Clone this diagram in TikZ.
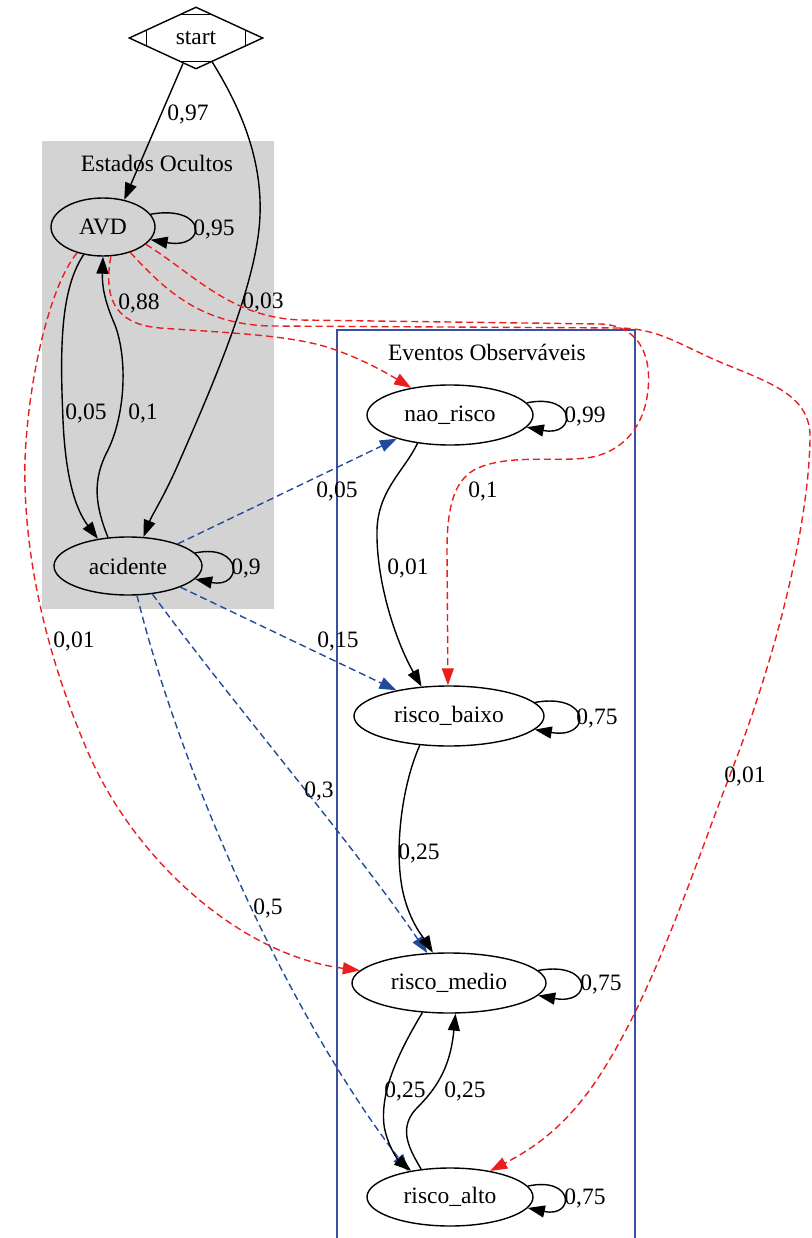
\documentclass[tikz,border=0pt]{standalone}
\usepackage{fontspec}
\setmainfont{Liberation Serif}
\usetikzlibrary{arrows.meta,shapes.geometric,calc}
\definecolor{hiddenfill}{RGB}{211,211,211}
\definecolor{obsframe}{RGB}{60,80,160}
\definecolor{emitred}{RGB}{235,30,30}
\definecolor{emitblue}{RGB}{35,75,155}
\begin{document}
\begin{tikzpicture}[x=1pt,y=-1pt,
  every node/.style={font=\fontsize{23.5}{28}\selectfont},
  hmmstate/.style={draw,ellipse,line width=1.4pt,inner sep=0pt},
  conn/.style={line width=1.4pt,-{Triangle[length=17pt,width=12pt]}},
  solidedge/.style={conn,black},
  rededge/.style={conn,emitred,dash pattern=on 7pt off 4pt},
  blueedge/.style={conn,emitblue,dash pattern=on 7pt off 4pt},
  prob/.style={inner sep=0pt,text depth=0pt}]
\useasboundingbox (0,0) rectangle (811,1238);

% clusters
\fill[hiddenfill] (42,141) rectangle (274,609);
\node (hidtitle) at (157,163) {Estados Ocultos};
\draw[obsframe,line width=1.4pt] (337,1250) -- (337,330) -- (635,330) -- (635,1250);
\node (obstitle) at (487,352) {Eventos Observáveis};

% nodes
\node[draw,diamond,aspect=2.16,line width=1.4pt,minimum width=134pt,minimum height=62pt,inner sep=0pt] (s) at (196,38) {start};
\draw[line width=1.4pt] ($(s.north)+(-17,8)$) -- ($(s.north)+(17,8)$);
\draw[line width=1.4pt] ($(s.south)+(-17,-8)$) -- ($(s.south)+(17,-8)$);
\draw[line width=1.4pt] ($(s.west)+(18,-8)$) -- ($(s.west)+(18,8)$);
\draw[line width=1.4pt] ($(s.east)+(-18,-8)$) -- ($(s.east)+(-18,8)$);

\node[hmmstate,minimum width=104pt,minimum height=58pt] (avd) at (103,227) {AVD};
\node[hmmstate,minimum width=148pt,minimum height=58pt] (acc) at (128,566) {acidente};
\node[hmmstate,minimum width=166pt,minimum height=60pt] (nao) at (450,415) {nao\_risco};
\node[hmmstate,minimum width=190pt,minimum height=60pt] (rb) at (449,716) {risco\_baixo};
\node[hmmstate,minimum width=194pt,minimum height=60pt] (rm) at (449,983) {risco\_medio};
\node[hmmstate,minimum width=166pt,minimum height=58pt] (ra) at (450,1197) {risco\_alto};

% start transitions
\draw[solidedge] (s.243) -- (avd.52);
\draw[solidedge] (s.304) .. controls (242,110) and (262,160) .. (260,215)
  .. controls (258,280) and (215,380) .. (180,460)
  .. controls (165,495) and (152,515) .. (acc.62);

% hidden state transitions
\draw[solidedge] (avd.235) .. controls (60,290) and (60,350) .. (63,420)
  .. controls (66,490) and (80,515) .. (acc.138);
\draw[solidedge] (acc.125) .. controls (95,505) and (92,480) .. (108,450)
  .. controls (125,415) and (128,360) .. (115,325)
  .. controls (104,300) and (102,285) .. (avd.270);
\draw[solidedge] (avd.15) .. controls +(57,-10) and +(57,10) .. (avd.-15);
\draw[solidedge] (acc.11) .. controls +(48,-10) and +(48,10) .. (acc.-11);

% emissions from AVD
\draw[rededge] (avd.-75) .. controls (104,295) and (112,324) .. (160,328)
  .. controls (230,333) and (290,335) .. (330,348)
  .. controls (360,358) and (385,372) .. (nao.145);
\draw[rededge] (avd.-22) .. controls (195,275) and (230,317) .. (300,320) -- (600,324)
  .. controls (635,325) and (652,350) .. (648,390)
  .. controls (645,420) and (630,445) .. (600,455)
  .. controls (570,465) and (515,452) .. (478,468)
  .. controls (455,478) and (447,505) .. (447,550) -- (rb.92);
\draw[rededge] (avd.-43) .. controls (165,290) and (200,324) .. (270,326) -- (620,328)
  .. controls (660,329) and (680,345) .. (720,362)
  .. controls (770,383) and (812,395) .. (810,440)
  .. controls (808,530) and (775,660) .. (730,775)
  .. controls (695,865) and (655,990) .. (600,1075)
  .. controls (565,1129) and (530,1150) .. (ra.33);
\draw[rededge] (avd.225) .. controls (50,285) and (28,380) .. (25,460)
  .. controls (23,540) and (40,640) .. (87,750)
  .. controls (134,860) and (240,955) .. (rm.172);

% emissions from acidente
\draw[blueedge] (acc.24) -- (nao.204);
\draw[blueedge] (acc.-22) -- (rb.154);
\draw[blueedge] (acc.-49) .. controls (230,700) and (350,840) .. (rm.126);
\draw[blueedge] (acc.-73) .. controls (180,770) and (285,1010) .. (ra.148);

% observed event transitions
\draw[solidedge] (nao.221) .. controls (405,470) and (378,490) .. (377,530)
  .. controls (376,580) and (395,640) .. (rb.133);
\draw[solidedge] (rb.225) .. controls (400,790) and (393,860) .. (405,900)
  .. controls (412,925) and (425,940) .. (rm.118);
\draw[solidedge] (rm.228) .. controls (400,1050) and (380,1090) .. (384,1125)
  .. controls (387,1145) and (398,1160) .. (ra.146);
\draw[solidedge] (ra.136) .. controls (410,1150) and (398,1130) .. (415,1110)
  .. controls (435,1090) and (450,1070) .. (rm.-78);
\draw[solidedge] (nao.9) .. controls +(50,-10) and +(50,10) .. (nao.-9);
\draw[solidedge] (rb.9) .. controls +(57,-10) and +(57,10) .. (rb.-9);
\draw[solidedge] (rm.8) .. controls +(55,-10) and +(55,10) .. (rm.-8);
\draw[solidedge] (ra.8) .. controls +(47,-10) and +(47,10) .. (ra.-8);

% probabilities
\node[prob] (p1) at (188,113) {0,97};
\node[prob] (p2) at (263,301) {0,03};
\node[prob] (p3) at (214,228) {0,95};
\node[prob] (p4) at (139,302) {0,88};
\node[prob] (p5) at (86,412) {0,05};
\node[prob] (p6) at (143,412) {0,1};
\node[prob] (p7) at (246,567) {0,9};
\node[prob] (p8) at (74,640) {0,01};
\node[prob] (p9) at (337,490) {0,05};
\node[prob] (p10) at (338,640) {0,15};
\node[prob] (p11) at (319,790) {0,3};
\node[prob] (p12) at (268,907) {0,5};
\node[prob] (p13) at (585,415) {0,99};
\node[prob] (p14) at (483,490) {0,1};
\node[prob] (p15) at (408,567) {0,01};
\node[prob] (p16) at (597,717) {0,75};
\node[prob] (p17) at (419,852) {0,25};
\node[prob] (p18) at (745,775) {0,01};
\node[prob] (p19) at (601,983) {0,75};
\node[prob] (p20) at (405,1090) {0,25};
\node[prob] (p21) at (465,1090) {0,25};
\node[prob] (p22) at (585,1197) {0,75};
\end{tikzpicture}
\end{document}
